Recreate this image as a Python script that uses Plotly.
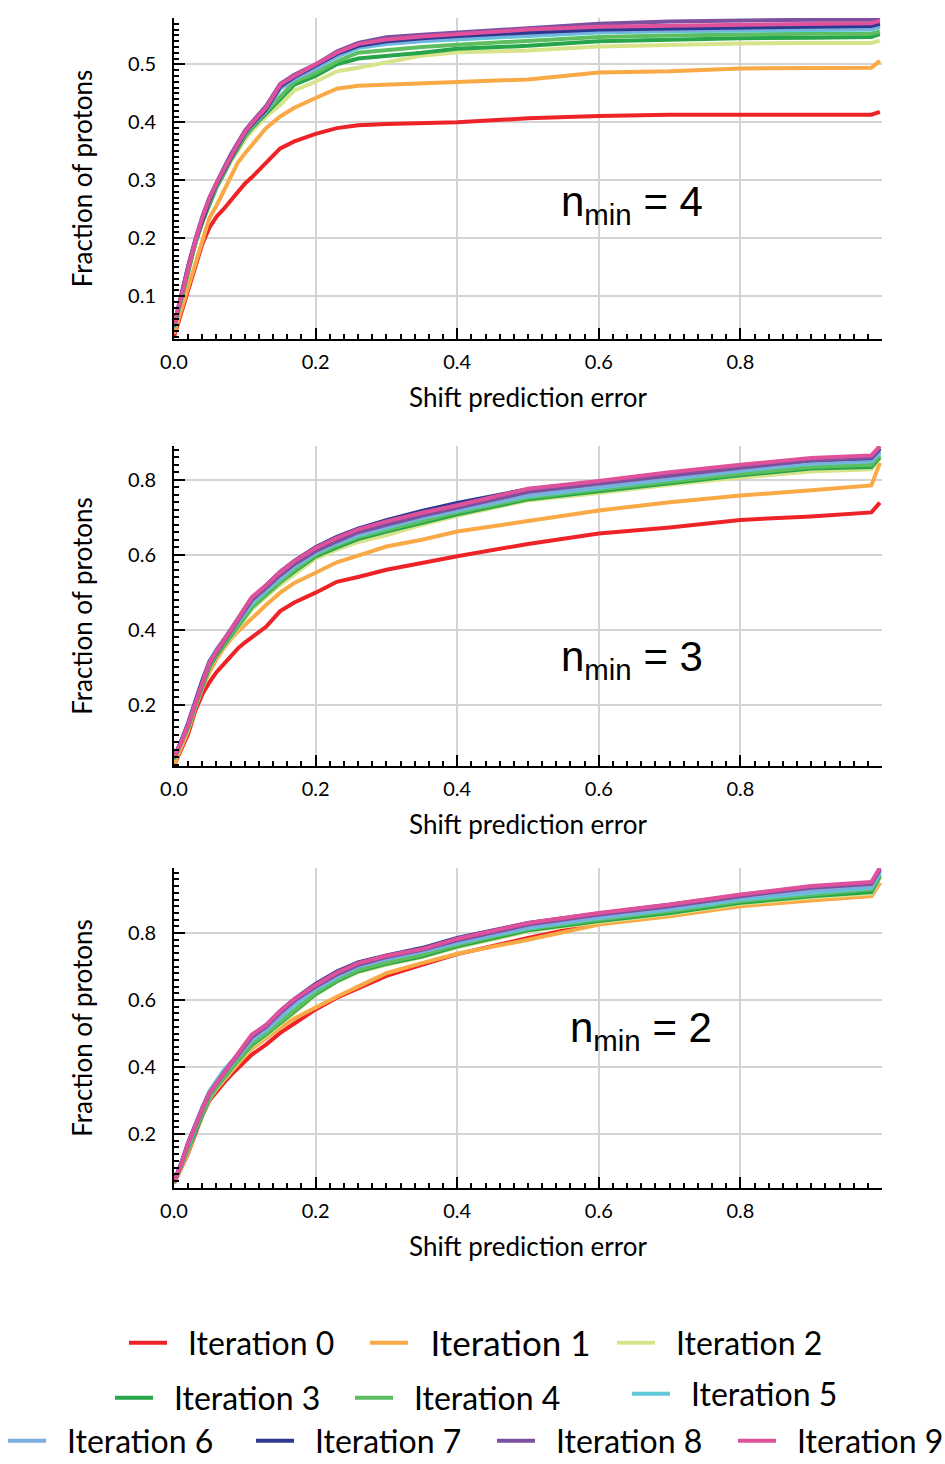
import plotly.graph_objects as go

# ---------------- data ----------------
X = [0, 0.01, 0.02, 0.03, 0.04, 0.05, 0.06, 0.07, 0.08, 0.09, 0.1, 0.11, 0.13, 0.15, 0.17, 0.2,
     0.23, 0.26, 0.3, 0.35, 0.4, 0.5, 0.6, 0.7, 0.8, 0.9, 0.985, 0.997]

series_names = ["Iteration 0", "Iteration 1", "Iteration 2", "Iteration 3", "Iteration 4",
                "Iteration 5", "Iteration 6", "Iteration 7", "Iteration 8", "Iteration 9"]
colors = ["#EE2328", "#F9A945", "#D8E48B", "#27A54A", "#5DBE61",
          "#5EC8D8", "#7BADDD", "#2B3990", "#7D50A0", "#E0519B"]

panel_labels = ["n<sub>min</sub> = 4", "n<sub>min</sub> = 3", "n<sub>min</sub> = 2"]

# n_min = 4
nmin4_it0 = [0.03, 0.07, 0.11, 0.155, 0.19, 0.218, 0.237, 0.25, 0.265, 0.28, 0.294, 0.305, 0.33, 0.355,
             0.367, 0.38, 0.39, 0.395, 0.397, 0.398, 0.40, 0.407, 0.411, 0.413, 0.413, 0.413, 0.413, 0.418]
nmin4_it1 = [0.035, 0.075, 0.12, 0.16, 0.2, 0.235, 0.256, 0.28, 0.305, 0.33, 0.346, 0.36, 0.39, 0.41,
             0.425, 0.442, 0.458, 0.463, 0.465, 0.466, 0.47, 0.474, 0.486, 0.488, 0.493, 0.494, 0.494, 0.506]
nmin4_it2 = [0.045, 0.095, 0.145, 0.19, 0.228, 0.26, 0.288, 0.31, 0.332, 0.35, 0.37, 0.385, 0.41, 0.43,
             0.455, 0.47, 0.488, 0.494, 0.503, 0.515, 0.521, 0.524, 0.531, 0.534, 0.536, 0.537, 0.537, 0.541]
nmin4_it3 = [0.045, 0.095, 0.145, 0.19, 0.228, 0.26, 0.288, 0.31, 0.335, 0.355, 0.375, 0.39, 0.415, 0.44,
             0.465, 0.48, 0.50, 0.51, 0.514, 0.52, 0.527, 0.532, 0.54, 0.543, 0.545, 0.546, 0.547, 0.552]
nmin4_it4 = [0.045, 0.097, 0.147, 0.192, 0.23, 0.262, 0.29, 0.312, 0.337, 0.357, 0.377, 0.392, 0.418, 0.445,
             0.47, 0.485, 0.505, 0.52, 0.525, 0.53, 0.534, 0.54, 0.547, 0.55, 0.552, 0.553, 0.553, 0.557]
nmin4_it5 = [0.047, 0.1, 0.15, 0.195, 0.235, 0.267, 0.295, 0.318, 0.342, 0.362, 0.382, 0.397, 0.422, 0.458,
             0.475, 0.492, 0.513, 0.528, 0.535, 0.54, 0.543, 0.55, 0.555, 0.557, 0.558, 0.559, 0.56, 0.564]
nmin4_it6 = [0.047, 0.1, 0.15, 0.195, 0.233, 0.266, 0.293, 0.316, 0.34, 0.36, 0.38, 0.395, 0.42, 0.458,
             0.475, 0.493, 0.515, 0.53, 0.537, 0.542, 0.546, 0.552, 0.557, 0.559, 0.561, 0.562, 0.562, 0.566]
nmin4_it7 = [0.048, 0.1, 0.15, 0.195, 0.232, 0.265, 0.293, 0.316, 0.34, 0.36, 0.381, 0.396, 0.422, 0.462,
             0.478, 0.498, 0.518, 0.532, 0.54, 0.545, 0.549, 0.555, 0.56, 0.562, 0.564, 0.565, 0.566, 0.57]
nmin4_it8 = [0.05, 0.102, 0.152, 0.197, 0.237, 0.27, 0.297, 0.32, 0.344, 0.364, 0.385, 0.4, 0.428, 0.466,
             0.482, 0.5, 0.522, 0.537, 0.547, 0.551, 0.555, 0.562, 0.57, 0.574, 0.576, 0.577, 0.577, 0.58]
nmin4_it9 = [0.05, 0.1, 0.15, 0.195, 0.235, 0.268, 0.295, 0.318, 0.342, 0.362, 0.383, 0.398, 0.425, 0.465,
             0.48, 0.5, 0.52, 0.535, 0.543, 0.548, 0.552, 0.56, 0.565, 0.567, 0.569, 0.57, 0.571, 0.575]

# n_min = 3
nmin3_it0 = [0.038, 0.08, 0.122, 0.184, 0.228, 0.26, 0.287, 0.308, 0.33, 0.35, 0.366, 0.38, 0.408, 0.45,
             0.473, 0.499, 0.528, 0.541, 0.56, 0.578, 0.596, 0.629, 0.657, 0.673, 0.693, 0.702, 0.713, 0.739]
nmin3_it1 = [0.04, 0.085, 0.131, 0.193, 0.245, 0.287, 0.322, 0.35, 0.375, 0.395, 0.413, 0.43, 0.466, 0.499,
             0.525, 0.552, 0.58, 0.598, 0.622, 0.64, 0.662, 0.69, 0.718, 0.74, 0.758, 0.772, 0.785, 0.845]
nmin3_it2 = [0.054, 0.095, 0.14, 0.195, 0.25, 0.298, 0.33, 0.355, 0.38, 0.405, 0.43, 0.455, 0.488, 0.52,
             0.548, 0.59, 0.614, 0.634, 0.652, 0.68, 0.704, 0.745, 0.765, 0.787, 0.806, 0.822, 0.828, 0.858]
nmin3_it3 = [0.055, 0.095, 0.14, 0.197, 0.252, 0.3, 0.332, 0.358, 0.385, 0.41, 0.435, 0.46, 0.494, 0.527,
             0.556, 0.596, 0.62, 0.642, 0.662, 0.686, 0.708, 0.748, 0.77, 0.792, 0.812, 0.83, 0.834, 0.86]
nmin3_it4 = [0.055, 0.097, 0.143, 0.2, 0.255, 0.305, 0.337, 0.362, 0.388, 0.413, 0.438, 0.462, 0.497, 0.53,
             0.56, 0.6, 0.625, 0.647, 0.667, 0.69, 0.713, 0.752, 0.774, 0.796, 0.816, 0.834, 0.84, 0.866]
nmin3_it5 = [0.057, 0.1, 0.15, 0.207, 0.265, 0.315, 0.348, 0.375, 0.398, 0.42, 0.445, 0.47, 0.505, 0.537,
             0.568, 0.604, 0.63, 0.652, 0.673, 0.698, 0.718, 0.757, 0.779, 0.802, 0.824, 0.843, 0.849, 0.872]
nmin3_it6 = [0.057, 0.1, 0.148, 0.205, 0.262, 0.312, 0.343, 0.37, 0.396, 0.422, 0.448, 0.475, 0.508, 0.54,
             0.57, 0.606, 0.632, 0.655, 0.676, 0.7, 0.72, 0.76, 0.782, 0.805, 0.826, 0.845, 0.851, 0.876]
nmin3_it7 = [0.06, 0.102, 0.152, 0.21, 0.265, 0.315, 0.345, 0.372, 0.4, 0.428, 0.457, 0.486, 0.518, 0.555,
             0.584, 0.62, 0.648, 0.67, 0.692, 0.717, 0.738, 0.775, 0.795, 0.818, 0.836, 0.852, 0.858, 0.882]
nmin3_it8 = [0.058, 0.1, 0.147, 0.203, 0.26, 0.31, 0.34, 0.366, 0.395, 0.423, 0.452, 0.48, 0.512, 0.546,
             0.575, 0.61, 0.636, 0.66, 0.68, 0.704, 0.725, 0.768, 0.79, 0.812, 0.832, 0.852, 0.859, 0.885]
nmin3_it9 = [0.06, 0.1, 0.148, 0.205, 0.262, 0.313, 0.343, 0.37, 0.4, 0.428, 0.458, 0.487, 0.519, 0.554,
             0.583, 0.618, 0.645, 0.668, 0.689, 0.712, 0.732, 0.776, 0.797, 0.82, 0.84, 0.858, 0.865, 0.89]

# n_min = 2
nmin2_it0 = [0.053, 0.1, 0.143, 0.2, 0.255, 0.3, 0.328, 0.352, 0.375, 0.397, 0.418, 0.437, 0.467, 0.502,
             0.53, 0.572, 0.607, 0.635, 0.672, 0.705, 0.737, 0.785, 0.83, 0.855, 0.882, 0.9, 0.912, 0.95]
nmin2_it1 = [0.053, 0.1, 0.145, 0.205, 0.258, 0.305, 0.335, 0.36, 0.386, 0.41, 0.433, 0.455, 0.487, 0.517,
             0.545, 0.578, 0.61, 0.64, 0.68, 0.71, 0.738, 0.78, 0.825, 0.85, 0.88, 0.897, 0.91, 0.95]
nmin2_it2 = [0.054, 0.103, 0.155, 0.21, 0.26, 0.305, 0.337, 0.365, 0.39, 0.415, 0.44, 0.462, 0.493, 0.527,
             0.562, 0.615, 0.655, 0.683, 0.705, 0.728, 0.757, 0.805, 0.833, 0.857, 0.887, 0.906, 0.918, 0.965]
nmin2_it3 = [0.055, 0.105, 0.158, 0.212, 0.262, 0.308, 0.34, 0.368, 0.393, 0.418, 0.443, 0.466, 0.497, 0.53,
             0.566, 0.618, 0.656, 0.686, 0.708, 0.73, 0.76, 0.808, 0.836, 0.86, 0.89, 0.91, 0.922, 0.97]
nmin2_it4 = [0.055, 0.105, 0.16, 0.215, 0.265, 0.31, 0.342, 0.37, 0.395, 0.42, 0.446, 0.47, 0.5, 0.535,
             0.57, 0.622, 0.66, 0.69, 0.712, 0.735, 0.765, 0.812, 0.84, 0.865, 0.895, 0.915, 0.93, 0.975]
nmin2_it5 = [0.056, 0.112, 0.172, 0.23, 0.28, 0.328, 0.36, 0.39, 0.413, 0.435, 0.458, 0.48, 0.51, 0.547,
             0.585, 0.632, 0.668, 0.7, 0.724, 0.745, 0.77, 0.815, 0.845, 0.87, 0.9, 0.92, 0.935, 0.98]
nmin2_it6 = [0.056, 0.11, 0.17, 0.225, 0.273, 0.32, 0.352, 0.38, 0.405, 0.43, 0.457, 0.482, 0.512, 0.55,
             0.59, 0.635, 0.67, 0.7, 0.722, 0.745, 0.772, 0.818, 0.848, 0.873, 0.905, 0.925, 0.94, 0.985]
nmin2_it7 = [0.058, 0.112, 0.175, 0.23, 0.277, 0.322, 0.353, 0.382, 0.41, 0.437, 0.467, 0.495, 0.525, 0.567,
             0.603, 0.648, 0.685, 0.712, 0.733, 0.755, 0.785, 0.83, 0.858, 0.884, 0.913, 0.938, 0.95, 0.99]
nmin2_it8 = [0.058, 0.11, 0.172, 0.227, 0.275, 0.322, 0.352, 0.38, 0.408, 0.435, 0.463, 0.49, 0.52, 0.562,
             0.598, 0.64, 0.676, 0.705, 0.728, 0.75, 0.778, 0.825, 0.855, 0.88, 0.91, 0.935, 0.947, 0.99]
nmin2_it9 = [0.058, 0.11, 0.173, 0.228, 0.276, 0.323, 0.353, 0.383, 0.41, 0.438, 0.468, 0.497, 0.525, 0.567,
             0.603, 0.645, 0.682, 0.71, 0.732, 0.752, 0.783, 0.83, 0.86, 0.885, 0.915, 0.94, 0.952, 0.995]

panels = [
    [nmin4_it0, nmin4_it1, nmin4_it2, nmin4_it3, nmin4_it4, nmin4_it5, nmin4_it6, nmin4_it7, nmin4_it8, nmin4_it9],
    [nmin3_it0, nmin3_it1, nmin3_it2, nmin3_it3, nmin3_it4, nmin3_it5, nmin3_it6, nmin3_it7, nmin3_it8, nmin3_it9],
    [nmin2_it0, nmin2_it1, nmin2_it2, nmin2_it3, nmin2_it4, nmin2_it5, nmin2_it6, nmin2_it7, nmin2_it8, nmin2_it9],
]

x_ticks = [0.0, 0.2, 0.4, 0.6, 0.8]
x_mid_ticks = [0.1, 0.3, 0.5, 0.7, 0.9]
y_ticks = [[0.1, 0.2, 0.3, 0.4, 0.5], [0.2, 0.4, 0.6, 0.8], [0.2, 0.4, 0.6, 0.8]]
y_mid_ticks = [[0.05, 0.15, 0.25, 0.35, 0.45, 0.55], [0.1, 0.3, 0.5, 0.7], [0.1, 0.3, 0.5, 0.7, 0.9]]

# ---------------- layout geometry ----------------
W, H = 945, 1464
FONT = "Lato"
y_ranges = [[0.026, 0.58], [0.037, 0.89], [0.039, 0.994]]
y_minor = [0.01, 0.02, 0.02]
panel_px = [(18, 339), (446, 766), (868, 1188)]   # (top, bottom) of each plot area
x_px = (174, 882)
label_px = [(632, 205), (632, 660), (641, 1030)]

fig = go.Figure()

for p, data in enumerate(panels):
    xa = "x" if p == 0 else f"x{p+1}"
    ya = "y" if p == 0 else f"y{p+1}"
    for k, vals in enumerate(data):
        fig.add_trace(go.Scatter(
            x=X, y=vals, mode="lines", name="\u2002" + series_names[k],
            line=dict(color=colors[k], width=4),
            xaxis=xa, yaxis=ya,
            showlegend=(p == 0),
            legend="legend" if k == 0 else f"legend{k+1}",
        ))

axis_common = dict(
    showline=True, linecolor="black", linewidth=2,
    ticks="inside", ticklen=11, tickwidth=2, tickcolor="black",
    showgrid=True, gridcolor="#D4D4D4", gridwidth=1.5,
    zeroline=False, mirror=False, automargin=False,
    tickfont=dict(family=FONT, size=20, color="black"),
)
mid_tick_axis = dict(
    showline=False, showgrid=False, zeroline=False, showticklabels=False,
    ticks="inside", ticklen=8, tickwidth=1.5, tickcolor="black", automargin=False,
    tickmode="array",
)

layout = dict(
    width=W, height=H,
    margin=dict(l=0, r=0, t=0, b=0, pad=0, autoexpand=False),
    paper_bgcolor="white", plot_bgcolor="white",
    font=dict(family=FONT, color="black"),
    annotations=[],
)

for p in range(3):
    sfx = "" if p == 0 else str(p + 1)
    top, bot = panel_px[p]
    layout[f"xaxis{sfx}"] = dict(
        axis_common,
        domain=[x_px[0] / W, x_px[1] / W],
        range=[0, 1.0], anchor=f"y{sfx}",
        tickmode="array", tickvals=x_ticks, ticktext=[f"{v:.1f}" for v in x_ticks],
        ticklabelstandoff=4,
        minor=dict(dtick=0.02, tick0=0, ticks="inside", ticklen=5, tickwidth=1.5,
                   tickcolor="black", showgrid=False),
        title=dict(text="Shift prediction error", font=dict(family=FONT, size=26), standoff=17),
    )
    layout[f"yaxis{sfx}"] = dict(
        axis_common,
        domain=[1 - bot / H, 1 - top / H],
        range=y_ranges[p], anchor=f"x{sfx}",
        tickmode="array", tickvals=y_ticks[p], ticktext=[f"{v:.1f}" for v in y_ticks[p]],
        ticklabelstandoff=12,
        minor=dict(dtick=y_minor[p], tick0=0, ticks="inside", ticklen=5, tickwidth=1.5,
                   tickcolor="black", showgrid=False),
        title=dict(text="Fraction of protons", font=dict(family=FONT, size=26), standoff=28),
    )
    # overlay axes that only carry the mid-length ticks
    ox, oy = 4 + p, 4 + p
    layout[f"xaxis{ox}"] = dict(
        mid_tick_axis, overlaying=f"x{sfx}", anchor=f"y{sfx}", side="bottom",
        range=[0, 1.0], tickvals=x_mid_ticks,
    )
    layout[f"yaxis{oy}"] = dict(
        mid_tick_axis, overlaying=f"y{sfx}", anchor=f"x{sfx}", side="left",
        range=y_ranges[p], tickvals=y_mid_ticks[p],
    )
    lx, ly = label_px[p]
    layout["annotations"].append(dict(
        text=panel_labels[p], x=lx / W, y=1 - ly / H, xref="paper", yref="paper",
        xanchor="center", yanchor="middle", showarrow=False,
        font=dict(family="Liberation Sans", size=42, color="black"),
    ))

# legend positions (pixel: symbol left edge, row center) and text sizes
legend_px = [(130, 1343), (371, 1343), (618, 1343),
             (116, 1398), (356, 1398), (633, 1394),
             (9, 1441), (257, 1441), (498, 1441), (739, 1441)]
legend_size = [32, 35, 32, 32, 32, 32, 32, 32, 32, 32]
for k, (lx, ly) in enumerate(legend_px):
    key = "legend" if k == 0 else f"legend{k+1}"
    layout[key] = dict(
        x=(lx - 6) / W, y=1 - ly / H, xanchor="left", yanchor="middle",
        xref="paper", yref="paper", orientation="h",
        bgcolor="rgba(0,0,0,0)", borderwidth=0,
        font=dict(family=FONT, size=legend_size[k], color="black"),
        itemwidth=38,
    )

fig.update_layout(**layout)
fig.write_html("out.html")
